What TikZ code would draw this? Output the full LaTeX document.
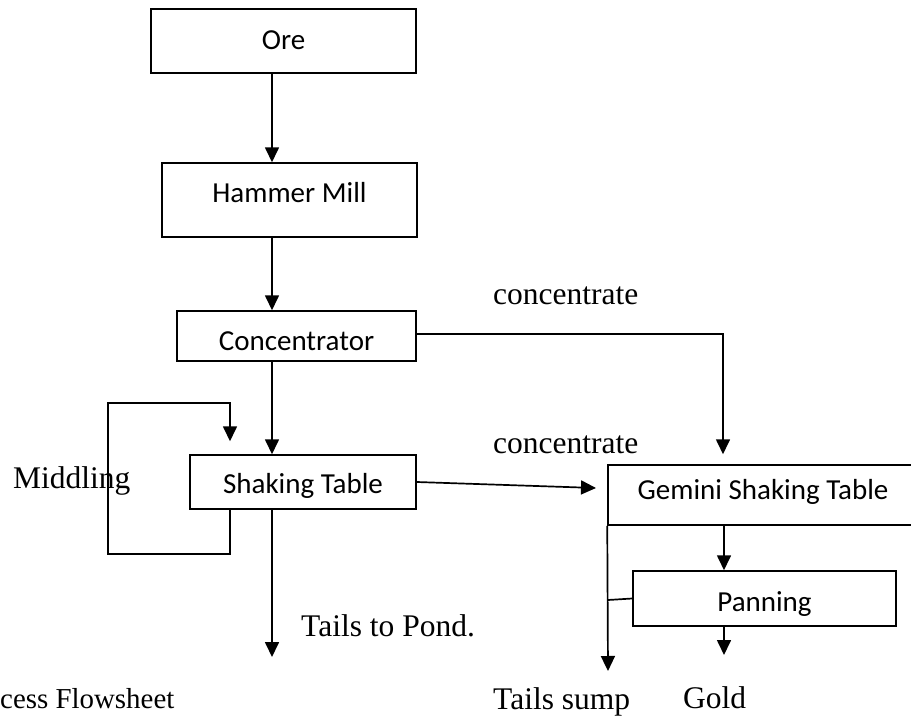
\documentclass[tikz,border=0pt]{standalone}
\usepackage{fontspec}
\setmainfont{Liberation Serif}
\newfontfamily\boxfont{Carlito}
\usetikzlibrary{arrows.meta}
\begin{document}
\begin{tikzpicture}[x=1pt,y=-1pt,
  procbox/.style={draw, line width=1.5pt, rectangle, inner sep=0pt,
    font=\boxfont\fontsize{29}{34}\selectfont, text height=18pt, text depth=0pt},
  flow/.style={line width=1.7pt},
  flowarr/.style={flow, -{Triangle[length=15pt,width=14pt]}},
  lbl/.style={inner sep=0pt, anchor=base west, font=\fontsize{31.5}{38}\selectfont},
  caplbl/.style={lbl, font=\fontsize{28.9}{35}\selectfont}]
\useasboundingbox (0,0) rectangle (911,717);

% boxes
\node[procbox, minimum width=265pt, minimum height=64pt] (ore) at (283.5,41) {Ore};
\node[procbox, minimum width=255pt, minimum height=74pt, text depth=14pt] (ham) at (289.5,200) {Hammer Mill};
\node[procbox, minimum width=239pt, minimum height=50pt, text height=28pt] (con) at (296.5,336) {Concentrator};
\node[procbox, minimum width=226pt, minimum height=54pt, text height=22pt] (st) at (303,482) {Shaking Table};
\node[procbox, minimum width=310pt, minimum height=60pt, text depth=10pt] (gem) at (763,495) {Gemini Shaking Table};
\node[procbox, minimum width=263pt, minimum height=55pt, text height=25pt] (pan) at (764.5,598.5) {Panning};

% helper coordinates
\coordinate (mx) at (272,0);
\coordinate (pond) at (272,657);
\coordinate (cb) at (723,334);
\coordinate (lp1) at (230,554);
\coordinate (lp2) at (108,554);
\coordinate (lp3) at (108,403);
\coordinate (lp4) at (230,403);
\coordinate (sg) at (596,488);
\coordinate (sump) at (608,671);
\coordinate (pj) at (608,600);
\coordinate (gx) at (724,0);
\coordinate (gold) at (724,655);

% main line
\draw[flowarr] (mx |- ore.south) -- (mx |- ham.north);
\draw[flowarr] (mx |- ham.south) -- (mx |- con.north);
\draw[flowarr] (mx |- con.south) -- (mx |- st.north);
\draw[flowarr] (mx |- st.south) -- (pond);

% concentrate branch
\draw[flowarr, shorten >=10pt] (con.east |- cb) -- (cb) -- (cb |- gem.north);

% middling loop
\draw[flowarr, shorten >=13pt] (lp1 |- st.south) -- (lp1) -- (lp2) -- (lp3) -- (lp4) -- (lp4 |- st.north);

% shaking table to gemini
\draw[flowarr] (st.east) -- (sg);

% gemini outputs
\draw[flowarr] (gem.south west) -- (sump);
\draw[flow] (pan.west) -- (pj);
\draw[flowarr] (gx |- gem.south) -- (gx |- pan.north);
\draw[flowarr] (gx |- pan.south) -- (gold);

% labels
\node[lbl] (lc1) at (493,304) {concentrate};
\node[lbl] (lc2) at (493,453) {concentrate};
\node[lbl] (lmid) at (13,488) {Middling};
\node[lbl] (lpond) at (301,636) {Tails to Pond.};
\node[lbl] (lsump) at (493,709) {Tails sump};
\node[lbl] (lgold) at (683,708) {Gold};
\node[caplbl] (lcap) at (0,708) {cess Flowsheet};
\end{tikzpicture}
\end{document}
